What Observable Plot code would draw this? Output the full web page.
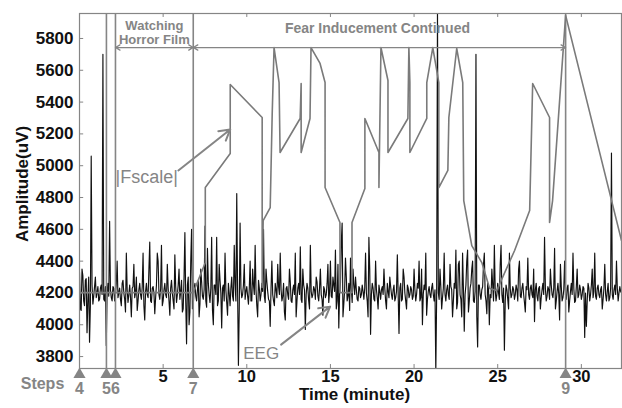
<!DOCTYPE html>
<html><head><meta charset="utf-8">
<script src="https://cdn.jsdelivr.net/npm/d3@7"></script>
<script src="https://cdn.jsdelivr.net/npm/@observablehq/plot@0.6"></script>
<style>html,body{margin:0;padding:0;background:#fff}svg{display:block}</style>
</head><body><div id="chart"></div>
<script>
// EEG amplitude (uV): readings on the 0.1-minute grid ...
const eegStep = 0.1;
const eegValues = [
4330,4090,4310,4120,4290,4150,3890,5060,4130,4240,
4170,4240,4160,4250,5700,4150,3870,4260,4650,4170,
4240,4150,4260,4170,4230,4120,4280,4160,4450,4140,
4250,4050,4240,4170,4300,4150,4260,4160,4450,4030,
4260,4170,4520,4140,4240,4070,4250,4400,4160,4500,
4150,4260,4170,4230,4060,4280,4150,4440,4140,4250,
4160,4280,4100,4580,3880,4300,4080,4600,4120,4260,
4150,4280,4130,4270,4160,4620,4110,4260,4140,4550,
4000,4250,4550,4150,4280,3980,4250,4450,4140,4260,
4120,4300,4150,4260,4825,3745,4640,4170,4250,4160,
4240,4130,4400,4150,4250,4500,4120,4280,4150,4260,
4600,4140,4270,4160,3990,4400,4150,4260,4170,4240,
4450,4150,4260,4030,4240,4160,4270,4140,4250,4450,
4150,4260,4490,4140,4250,3970,4260,4150,4500,4170,
4240,4160,4270,4150,4350,4160,4240,4170,4260,4140,
4400,4170,4250,4470,4150,3980,4260,4640,4130,4420,
4150,4260,4420,4140,4250,4300,4160,4240,4170,4250,
4160,4450,4150,4550,3940,4260,4160,4400,4170,4250,
4160,4240,4350,4150,4260,4170,4240,4160,4250,4170,
4440,3945,4260,4160,4300,4150,4250,4170,4240,4160,
4350,4150,4260,4400,4170,4000,4250,4450,4160,4240,
4170,4260,4150,3700,6000,4160,4240,4170,4450,4150,
4250,4160,4240,4050,4260,4470,4140,4400,4160,4450,
3960,4250,4470,4150,4260,4400,4140,5700,3860,4250,
4160,4240,4450,4150,4260,4000,4170,4250,4500,4150,
4260,4160,4500,4140,3840,4250,4160,4450,4170,4240,
4160,4250,4150,4400,4170,4260,4140,4240,4420,4160,
4250,4170,4020,4260,4150,4240,4170,4260,4550,4150,
4240,4160,4250,4170,4480,4150,4260,4030,4240,4170,
4400,4160,4250,4150,4260,4450,4140,4240,4170,4250,
4160,4240,3920,3990,4260,4150,4250,4170,4450,4160,
4250,4170,4240,4160,4380,4150,4260,4170,5080,4160,
4250,4400,4150,4240,4200
];
// ... and the readings half-way between them
const eegMidValues = [
4100,4350,4150,4280,3950,4300,4120,4250,4180,4300,
4200,4150,4230,4190,4160,4240,4200,4180,4220,4150,
4230,4190,4400,4200,4160,4260,4200,4080,4220,4190,
4170,4230,4380,4200,4090,4220,4190,4240,4120,4210,
4190,4350,4150,4230,4200,4170,4450,4190,4230,4120,
4220,4190,4380,4150,4230,4200,4100,4240,4190,4350,
4210,4080,4300,4150,4250,4000,4400,4100,4230,4180,
4220,4050,4350,4180,4220,4150,4480,4190,4230,4090,
4250,4190,4120,4380,4200,4230,4150,4220,4060,4200,
4230,4180,4500,4150,4220,4100,4230,4190,4380,4210,
4180,4230,4150,4350,4190,4220,4050,4230,4190,4210,
4180,4350,4210,4150,4230,4190,4120,4220,4380,4190,
4220,4180,4080,4230,4190,4350,4150,4220,4190,4050,
4230,4190,4160,4350,4220,4190,4230,4100,4210,4190,
4220,4300,4180,4230,4190,4060,4220,4190,4380,4210,
4180,4300,4210,4100,4380,4200,4520,4050,4220,4300,
4180,4090,4230,4350,4190,4220,4150,4230,4190,4210,
4230,4200,4050,4350,4190,4230,4150,4220,4100,4210,
4220,4190,4230,4100,4210,4300,4190,4220,4150,4210,
4190,4230,4150,4350,4200,4100,4230,4190,4220,4180,
4220,4190,4230,4150,4350,4190,4220,4060,4210,4190,
4230,4190,4220,4180,4200,4350,4100,4230,4190,4220,
4190,4380,4220,4150,4230,4100,4380,4190,4050,4230,
4190,4400,4080,4230,4350,4150,4210,4050,4250,4190,
4220,4380,4190,4070,4230,4190,4350,4150,4220,4190,
4200,4380,4190,4230,4150,4220,4100,4230,4190,4220,
4190,4220,4350,4180,4230,4190,4080,4220,4190,4230,
4190,4350,4220,4180,4230,4100,4220,4190,4230,4180,
4220,4350,4190,4230,4100,4210,4190,4380,4150,4220,
4190,4230,4080,4210,4190,4230,4150,4350,4190,4220,
4190,4230,4200,4150,4230,4190,4350,4210,4180,4230,
4190,4220,4100,4230,4190,4210,4150,4230,4190,4220,
4190,4230,4200,4210
];

// |Fscale| trace (time in minutes, value in uV scale)
const ifTimes = [0,6.80,7.52,7.52,9.01,9.01,10.92,10.92,10.98,11.40,11.52,11.63,11.93,11.99,13.19,13.25,13.25,13.78,13.84,14.38,14.68,14.68,15.57,15.57,16.29,16.29,17.06,17.06,17.90,17.90,18.02,18.44,18.44,19.63,19.69,19.75,19.75,20.76,20.76,21.12,21.48,21.48,22.02,22.08,22.55,22.91,22.97,23.45,24.05,24.52,24.94,26.01,26.91,27.09,28.10,28.10,28.28,29.06,32.40];
const ifValues = [4202,4202,4391,4863,5077,5511,5303,4234,4655,4737,5328,5743,5523,5083,5297,5517,5083,5297,5743,5643,5523,4863,4643,4202,4202,4643,4857,5297,5083,4863,5743,5536,5083,5297,5743,5523,5083,5297,5523,5743,5523,4863,4970,5303,5737,5523,4781,4498,4391,4228,4215,4467,4718,5517,5303,4643,4781,5945,4530];

// experiment steps
const stepTimes = [0, 1.61, 2.15, 6.80, 29.06];
const stepLabels = ["4", "5", "6", "7", "9"];

const xTicks = [5, 10, 15, 20, 25, 30];
const yTicks = [3800, 4000, 4200, 4400, 4600, 4800, 5000, 5200, 5400, 5600, 5800];

const xDomain = [0, 32.4];
const yDomain = [3725, 5957];
const yArrow = 5743;

const gray = "#858585";
const font = "'Liberation Sans', Arial, Helvetica, sans-serif";

const eegData = [];
eegValues.forEach((v, i) => {
  eegData.push({t: i * eegStep, v});
  if (i < eegMidValues.length) eegData.push({t: i * eegStep + eegStep / 2, v: eegMidValues[i]});
});
const ifData = ifTimes.map((t, i) => ({t, v: ifValues[i]}));
const mid67 = (stepTimes[2] + stepTimes[3]) / 2;
const mid79 = (stepTimes[3] + stepTimes[4]) / 2;

const chart = Plot.plot({
  width: 622, height: 408,
  marginLeft: 79, marginRight: 1, marginTop: 13, marginBottom: 40,
  x: {domain: xDomain, axis: null},
  y: {domain: yDomain, axis: null},
  style: {fontFamily: font, background: "#fff"},
  marks: [
    Plot.line(eegData, {x: "t", y: "v", stroke: "#111", strokeWidth: 1.15, clip: true}),
    Plot.ruleX(stepTimes.slice(1), {stroke: gray, strokeWidth: 1.6}),
    Plot.line(ifData, {x: "t", y: "v", stroke: "#7a7a7a", strokeWidth: 1.6, clip: true}),
    Plot.frame({stroke: gray, strokeWidth: 1.2}),
    // inward ticks
    Plot.ruleY(yTicks, {y: d => d, x1: xDomain[0], x2: xDomain[0] + 0.25, stroke: gray}),
    Plot.ruleX(xTicks, {x: d => d, y1: yDomain[0], y2: yDomain[0] + 25, stroke: gray}),
    Plot.ruleX(xTicks, {x: d => d, y1: yDomain[1], y2: yDomain[1] - 25, stroke: gray}),
    // tick labels
    Plot.text(yTicks, {y: d => d, text: d => String(d), frameAnchor: "left", textAnchor: "end", dx: -6, fontSize: 17, fontWeight: "bold", fill: "#111"}),
    Plot.text(xTicks, {x: d => d, text: d => String(d), frameAnchor: "bottom", textAnchor: "middle", dy: 13, fontSize: 16.5, fontWeight: "bold", fill: "#111"}),
    // step markers
    Plot.dot(stepTimes, {x: d => d, y: yDomain[0], dy: 6, symbol: "triangle", r: 4.5, fill: gray, stroke: null}),
    Plot.text(stepTimes, {x: d => d, y: yDomain[0], text: (d, i) => stepLabels[i], textAnchor: "middle", dy: 20, fontSize: 16, fontWeight: "bold", fill: gray}),
    Plot.text(["Steps"], {frameAnchor: "bottom-left", textAnchor: "middle", dx: -37, dy: 20, fontSize: 16, fontWeight: "bold", fill: gray}),
    // axis titles
    Plot.text(["Time (minute)"], {frameAnchor: "bottom", textAnchor: "middle", dx: 4, dy: 31, fontSize: 17, fontWeight: "bold", fill: "#111"}),
    Plot.text(["Amplitude(uV)"], {frameAnchor: "left", textAnchor: "middle", dx: -57, dy: -7, rotate: -90, fontSize: 17, fontWeight: "bold", fill: "#111"}),
    // phase annotations
    Plot.text(["Watching"], {x: mid67, frameAnchor: "top", textAnchor: "middle", dy: 7, fontSize: 13, fontWeight: "bold", fill: gray}),
    Plot.text(["Horror Film"], {x: mid67, frameAnchor: "top", textAnchor: "middle", dy: 21, fontSize: 13, fontWeight: "bold", fill: gray}),
    Plot.text(["Fear Inducement Continued"], {x: mid79, frameAnchor: "top", textAnchor: "middle", dx: -2, dy: 10, fontSize: 14, fontWeight: "bold", fill: gray}),
    Plot.arrow([0], {x1: mid67, x2: stepTimes[2], y1: yArrow, y2: yArrow, stroke: gray, strokeWidth: 1.3, headLength: 6}),
    Plot.arrow([0], {x1: mid67, x2: stepTimes[3], y1: yArrow, y2: yArrow, stroke: gray, strokeWidth: 1.3, headLength: 6}),
    Plot.arrow([0], {x1: mid79, x2: stepTimes[3], y1: yArrow, y2: yArrow, stroke: gray, strokeWidth: 1.3, headLength: 6}),
    Plot.arrow([0], {x1: mid79, x2: stepTimes[4], y1: yArrow, y2: yArrow, stroke: gray, strokeWidth: 1.3, headLength: 6}),
    // series labels
    Plot.text(["|Fscale|"], {x: 2.15, y: 4926, textAnchor: "start", fontSize: 18, fill: gray}),
    Plot.arrow([0], {x1: 5.91, y1: 4970, x2: 9.01, y2: 5228, stroke: gray, strokeWidth: 2, headLength: 9}),
    Plot.text(["EEG"], {x: 9.79, y: 3819, textAnchor: "start", fontSize: 17, fill: gray}),
    Plot.arrow([0], {x1: 12.05, y1: 3875, x2: 14.98, y2: 4114, stroke: gray, strokeWidth: 2, headLength: 9})
  ]
});
document.getElementById("chart").appendChild(chart);
</script>
</body></html>
